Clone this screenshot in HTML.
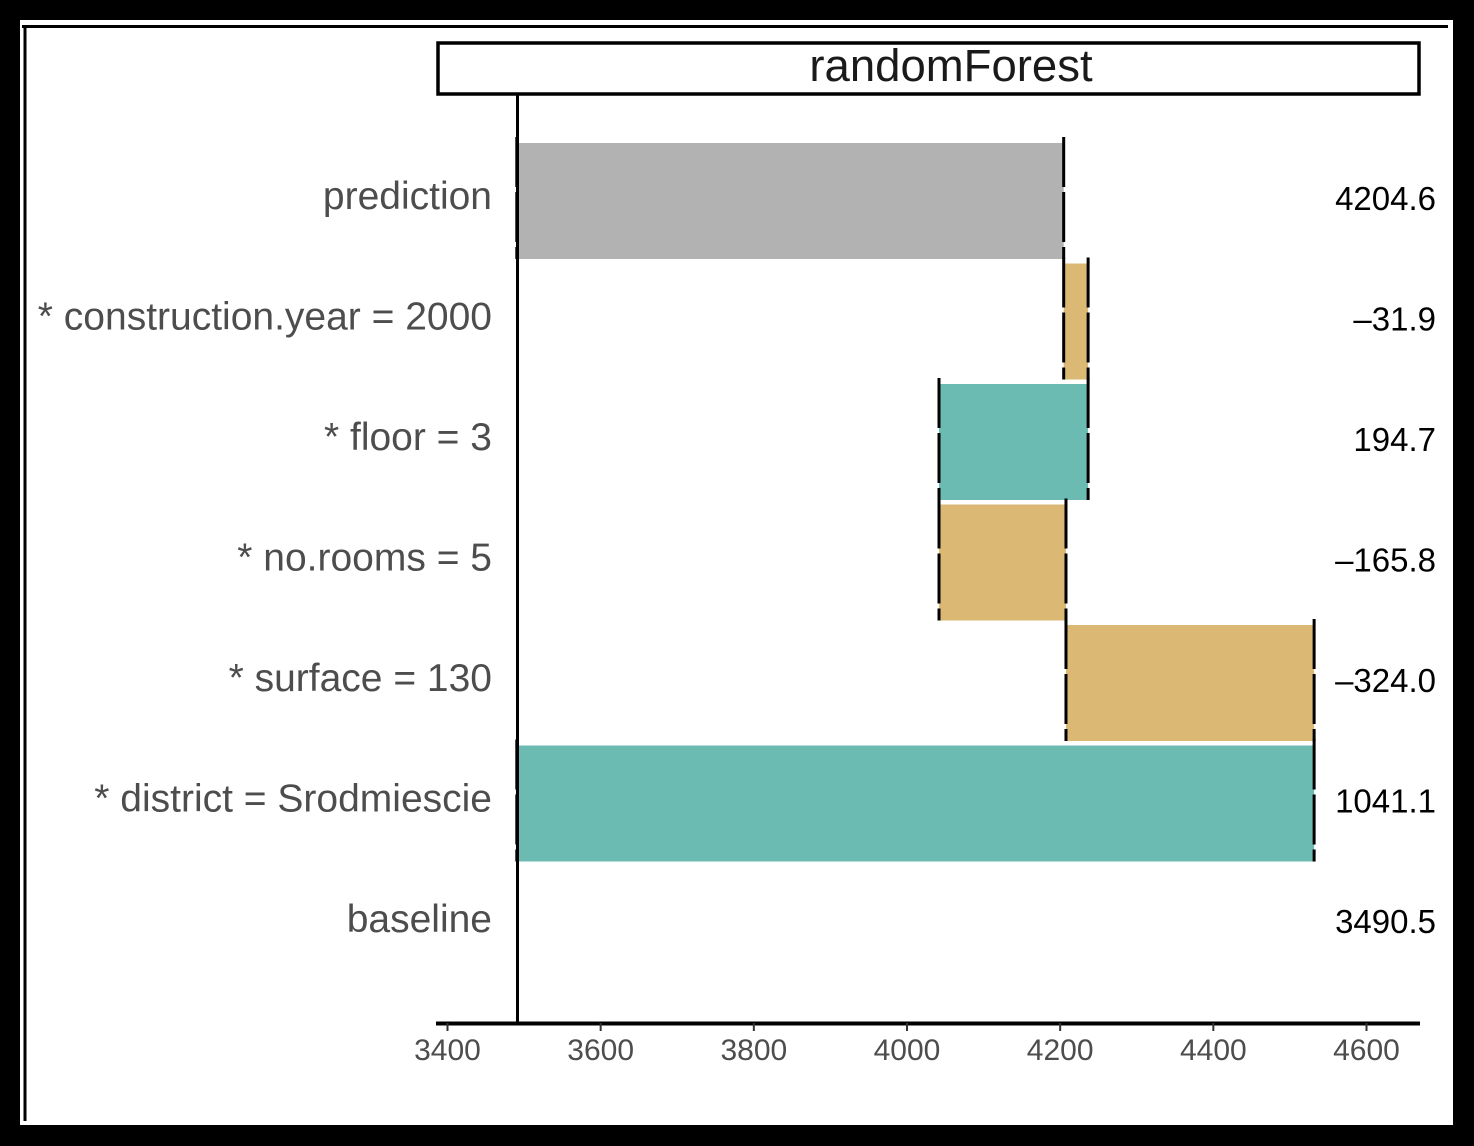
<!DOCTYPE html>
<html><head><meta charset="utf-8"><style>
html,body{margin:0;padding:0;background:#000;}
svg{display:block;font-family:"Liberation Sans",Arial,sans-serif;}
</style></head><body>
<svg id="chart" width="1474" height="1146" viewBox="0 0 1474 1146">
<rect x="0" y="0" width="1474" height="1146" fill="#000"/>
<rect x="20" y="20" width="1433" height="1105" fill="#fff"/>
<line x1="22" y1="26.5" x2="1448" y2="26.5" stroke="#000" stroke-width="3"/>
<line x1="25" y1="25" x2="25" y2="1121" stroke="#000" stroke-width="3"/>
<rect x="438" y="43" width="981" height="51" fill="#fff" stroke="#000" stroke-width="3.5"/>
<text x="951" y="81" font-size="45.5" text-anchor="middle" fill="#1a1a1a">randomForest</text>
<g id="bars"></g>
<g id="ylabels"></g>
<g id="values"></g>
<g id="xaxis"></g>
<line x1="517.5" y1="95" x2="517.5" y2="1023" stroke="#000" stroke-width="3"/>
</svg>
<script>
const categories = ["prediction","* construction.year = 2000","* floor = 3","* no.rooms = 5","* surface = 130","* district = Srodmiescie","baseline"];
const contributions = [4204.6, -31.9, 194.7, -165.8, -324.0, 1041.1, 3490.5];
const barStart = [3490.5, 4204.6, 4041.8, 4041.8, 4207.6, 3490.5, null];
const barEnd = [4204.6, 4236.5, 4236.5, 4207.6, 4531.6, 4531.6, null];
const barKind = ["prediction","neg","pos","neg","neg","pos","none"];
const valueLabels = ["4204.6","\u201331.9","194.7","\u2013165.8","\u2013324.0","1041.1","3490.5"];
const xTicks = [3400,3600,3800,4000,4200,4400,4600];

const NS="http://www.w3.org/2000/svg";
function xs(v){return 447.5+(v-3400)*(1366.5-447.5)/1200;}
function ys(i){return 201+i*120.5;}
const colors={prediction:"#b2b2b2",pos:"#6bbbb3",neg:"#dbb975"};
function mk(tag,attrs,parent){const e=document.createElementNS(NS,tag);for(const k in attrs)e.setAttribute(k,attrs[k]);parent.appendChild(e);return e;}
const gb=document.getElementById('bars'),gl=document.getElementById('ylabels'),gv=document.getElementById('values'),gx=document.getElementById('xaxis');
categories.forEach((c,i)=>{
  const yc=ys(i);
  if(barStart[i]!==null){
    const x0=xs(Math.min(barStart[i],barEnd[i])),x1=xs(Math.max(barStart[i],barEnd[i]));
    const r=mk('rect',{x:x0,y:yc-58,width:x1-x0,height:116,fill:colors[barKind[i]]},gb);
    
    
    [x0,x1].forEach((xx,j)=>{
      const l=mk('line',{x1:xx,y1:yc-64,x2:xx,y2:yc+58,stroke:'#000','stroke-width':3,'stroke-dasharray':'50 5'},gb);
      
      
    });
  }
  const t=mk('text',{x:492,y:yc+8,'font-size':39,'text-anchor':'end',fill:'#4d4d4d'},gl);
  t.textContent=c;
  
  
  const v=mk('text',{x:1436,y:yc+9,'font-size':33,'text-anchor':'end',fill:'#000'},gv);
  v.textContent=valueLabels[i];
  
  
});
const ax=mk('line',{x1:436,y1:1023.5,x2:1420,y2:1023.5,stroke:'#000','stroke-width':4},gx);


xTicks.forEach(t=>{
  const x=xs(t);
  const tk=mk('line',{x1:x,y1:1023,x2:x,y2:1031,stroke:'#333','stroke-width':2},gx);
  
  
  const lb=mk('text',{x:x,y:1060,'font-size':30,'text-anchor':'middle',fill:'#4d4d4d'},gx);
  lb.textContent=t;
  
  
});
</script>
</body></html>
